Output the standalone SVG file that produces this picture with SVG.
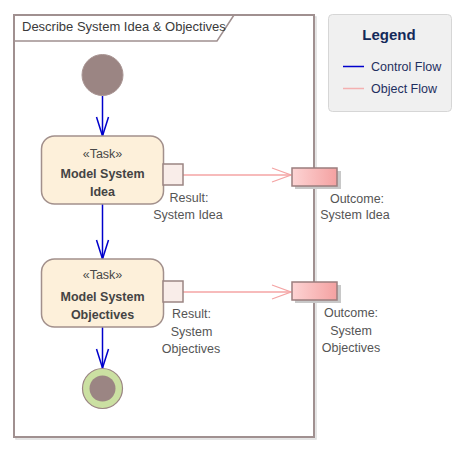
<svg xmlns="http://www.w3.org/2000/svg" width="467" height="452" viewBox="0 0 467 452">
<defs>
<linearGradient id="pinGrad" x1="0" y1="0" x2="1" y2="0">
<stop offset="0" stop-color="#fdd4d4"/>
<stop offset="1" stop-color="#f4a1a1"/>
</linearGradient>
</defs>
<style>
text{font-family:"Liberation Sans",Arial,sans-serif;fill:#484848;font-size:12.5px}
.title{font-size:13px;fill:#3a3a3a}
.bold{font-weight:bold;font-size:12.5px;fill:#444}
.lab{font-size:12.5px;fill:#555;text-anchor:middle}
.task{fill:#fdf0da;stroke:#a2908c;stroke-width:1.5}
.pin{fill:#f9ede9;stroke:#9b8583;stroke-width:1.5}
.opin{fill:url(#pinGrad);stroke:#9b7e7e;stroke-width:1.5}
.shadow{fill:#c8c8c8}
.ctrl{stroke:#0000cc;stroke-width:1.5;fill:none}
.obj{stroke:#f4a4a4;stroke-width:1.3;fill:none}
.legtext{fill:#1f2f5f;font-size:12.5px}
</style>
<g id="frame">
<rect x="16" y="17" width="300" height="422" fill="none" stroke="#dcdcdc" stroke-width="1.5"/>
<rect x="14" y="15" width="300" height="422" fill="#ffffff" stroke="#a09090" stroke-width="2"/>
<path d="M14,41 L217,41 L234,15" fill="none" stroke="#a09090" stroke-width="1.5"/>
<text class="title" x="22" y="31">Describe System Idea &amp; Objectives</text>
</g>
<g id="legend">
<rect x="328.5" y="14.5" width="123" height="97" rx="4" fill="#f0f0f0" stroke="#d6d6d6" stroke-width="1"/>
<text x="389" y="40" text-anchor="middle" style="font-size:15px;font-weight:bold;fill:#13295a">Legend</text>
<line x1="343" y1="66.5" x2="364" y2="66.5" stroke="#0000cc" stroke-width="1.5"/>
<text class="legtext" x="371" y="70.5">Control Flow</text>
<line x1="343" y1="88.5" x2="364" y2="88.5" stroke="#f4b0b0" stroke-width="1.5"/>
<text class="legtext" x="371" y="92.5">Object Flow</text>
</g>
<g id="connectors">
<line class="ctrl" x1="102.5" y1="96" x2="102.5" y2="136"/>
<path class="ctrl" d="M96.5,117 L102.5,136 L108.5,117"/>
<line class="ctrl" x1="102.5" y1="204" x2="102.5" y2="259"/>
<path class="ctrl" d="M96.5,240 L102.5,259 L108.5,240"/>
<line class="ctrl" x1="102.5" y1="327" x2="102.5" y2="368"/>
<path class="ctrl" d="M96.5,349 L102.5,368 L108.5,349"/>
<line class="obj" x1="183" y1="175" x2="291" y2="175"/>
<path class="obj" d="M272,168 L291,175 L272,182"/>
<line class="obj" x1="183" y1="292" x2="291" y2="292"/>
<path class="obj" d="M272,285 L291,292 L272,299"/>
</g>
<g id="initial">
<circle cx="102.5" cy="75" r="20.5" fill="#9b8583" stroke="#a99593" stroke-width="1"/>
</g>
<g id="task1">
<rect class="task" x="41.5" y="136" width="122" height="68" rx="13"/>
<text x="102.5" y="158" text-anchor="middle">«Task»</text>
<text class="bold" x="102.5" y="178" text-anchor="middle">Model System</text>
<text class="bold" x="102.5" y="196" text-anchor="middle">Idea</text>
</g>
<g id="pin1">
<rect class="pin" x="163" y="164" width="20" height="21"/>
<text class="lab" x="189" y="202">Result:</text>
<text class="lab" x="188" y="219">System Idea</text>
</g>
<g id="outcome1">
<rect class="shadow" x="295" y="171" width="46" height="18"/>
<rect class="opin" x="292" y="168" width="45" height="18"/>
<text class="lab" x="357" y="203">Outcome:</text>
<text class="lab" x="355" y="219">System Idea</text>
</g>
<g id="task2">
<rect class="task" x="41.5" y="259" width="122" height="68" rx="13"/>
<text x="102.5" y="279" text-anchor="middle">«Task»</text>
<text class="bold" x="102.5" y="301" text-anchor="middle">Model System</text>
<text class="bold" x="102.5" y="319" text-anchor="middle">Objectives</text>
</g>
<g id="pin2">
<rect class="pin" x="163" y="281" width="20" height="21"/>
<text class="lab" x="191.5" y="318">Result:</text>
<text class="lab" x="191.5" y="336">System</text>
<text class="lab" x="191" y="353">Objectives</text>
</g>
<g id="outcome2">
<rect class="shadow" x="295" y="285" width="46" height="18"/>
<rect class="opin" x="292" y="282" width="45" height="18"/>
<text class="lab" x="351" y="317">Outcome:</text>
<text class="lab" x="351" y="335">System</text>
<text class="lab" x="351" y="352">Objectives</text>
</g>
<g id="final">
<circle cx="102.5" cy="388.5" r="20" fill="#cbe0a2" stroke="#9b8583" stroke-width="1.2"/>
<circle cx="102.5" cy="388.5" r="13" fill="#9b8583"/>
</g>
</svg>
